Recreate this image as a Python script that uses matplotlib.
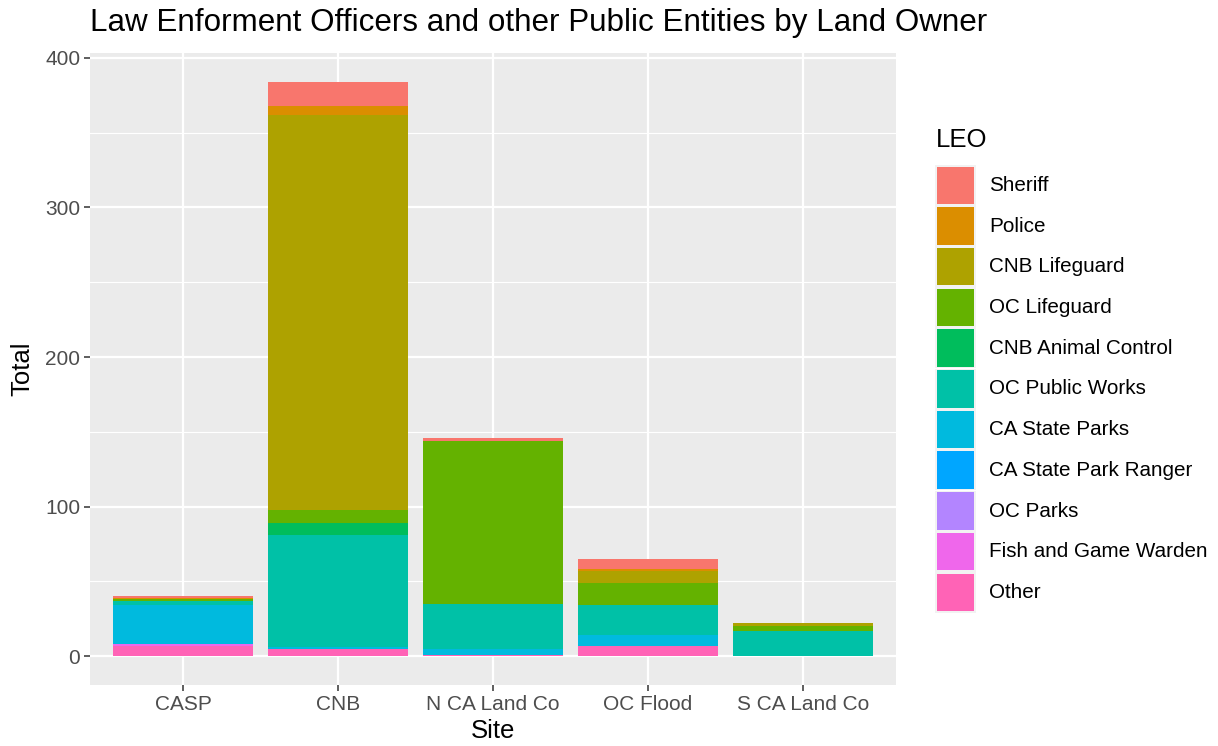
import numpy as np
import matplotlib
matplotlib.use("Agg")
import matplotlib.pyplot as plt
from matplotlib.patches import Rectangle

plt.rcParams["font.family"] = ["Liberation Sans", "DejaVu Sans"]

# counts, per site
sites = ["CASP", "CNB", "N CA Land Co", "OC Flood", "S CA Land Co"]
leo_names = ["Sheriff", "Police", "CNB Lifeguard", "OC Lifeguard", "CNB Animal Control",
             "OC Public Works", "CA State Parks", "CA State Park Ranger", "OC Parks",
             "Fish and Game Warden", "Other"]
sheriff = [1, 16, 2, 7, 0]
police = [1, 6, 0, 1, 0]
cnb_lifeguard = [0, 264, 0, 8, 2]
oc_lifeguard = [1, 9, 109, 15, 3]
cnb_animal_control = [0, 8, 0, 0, 0]
oc_public_works = [3, 75, 30, 20, 17]
ca_state_parks = [26, 1, 4, 7, 0]
ca_state_park_ranger = [0, 0, 0, 0, 0]
oc_parks = [0, 0, 0, 0, 0]
fish_and_game = [1, 0, 0, 0, 0]
other = [7, 5, 1, 7, 0]

series = [sheriff, police, cnb_lifeguard, oc_lifeguard, cnb_animal_control,
          oc_public_works, ca_state_parks, ca_state_park_ranger, oc_parks,
          fish_and_game, other]
colors = ["#F8766D", "#DB8E00", "#AEA200", "#64B200", "#00BD5C", "#00C1A7",
          "#00BADE", "#00A6FF", "#B385FF", "#EF67EB", "#FF63B6"]

W, H = 1218, 746
fig = plt.figure(figsize=(W / 100, H / 100), dpi=100)
ax = fig.add_axes([90 / W, (H - 685) / H, (896 - 90) / W, (685 - 53) / H])
ax.set_facecolor("#EBEBEB")
for s in ax.spines.values():
    s.set_visible(False)

x = np.arange(1, len(sites) + 1)
# ggplot stacks first level on top, so draw from the last level upward
bottom = np.zeros(len(sites))
for vals, col in zip(series[::-1], colors[::-1]):
    v = np.array(vals, dtype=float)
    ax.bar(x, v, width=0.9, bottom=bottom, color=col, linewidth=0, zorder=3)
    bottom += v

top = bottom.max()
ax.set_xlim(0.4, len(sites) + 0.6)
ax.set_ylim(-0.05 * top, top * 1.05)

ax.set_xticks(x)
ax.set_xticklabels(sites)
ax.set_yticks([0, 100, 200, 300, 400])
ax.set_yticks([50, 150, 250, 350], minor=True)
ax.grid(which="major", color="white", linewidth=1.6, zorder=0)
ax.grid(which="minor", axis="y", color="white", linewidth=0.8, zorder=0)
ax.set_axisbelow(True)
ax.tick_params(axis="both", which="major", length=4, width=1.1, color="#333333",
               labelsize=15, labelcolor="#4D4D4D", pad=3)
ax.tick_params(axis="both", which="minor", length=0)

ax.set_xlabel("Site", fontsize=18.5, labelpad=4)
ax.set_ylabel("Total", fontsize=18.5, labelpad=8)
fig.text(90 / W, 1 - 23 / H, "Law Enforment Officers and other Public Entities by Land Owner",
         fontsize=22.6, ha="left", va="center")

# legend drawn in pixel space
lax = fig.add_axes([0, 0, 1, 1], zorder=-1)
lax.set_xlim(0, W)
lax.set_ylim(H, 0)
lax.axis("off")
lax.text(936, 140, "LEO", fontsize=18.5, ha="left", va="center")
for i, (name, col) in enumerate(zip(leo_names, colors)):
    y0 = 165 + i * 40.7
    lax.add_patch(Rectangle((935, y0), 40.5, 40.5, facecolor="#F2F2F2", edgecolor="none"))
    lax.add_patch(Rectangle((936.5, y0 + 1.5), 37.5, 37.5, facecolor=col, edgecolor="none"))
    lax.text(989, y0 + 20.5, name, fontsize=14.9, ha="left", va="center")

fig.savefig("out.png", dpi=100, facecolor="white")
